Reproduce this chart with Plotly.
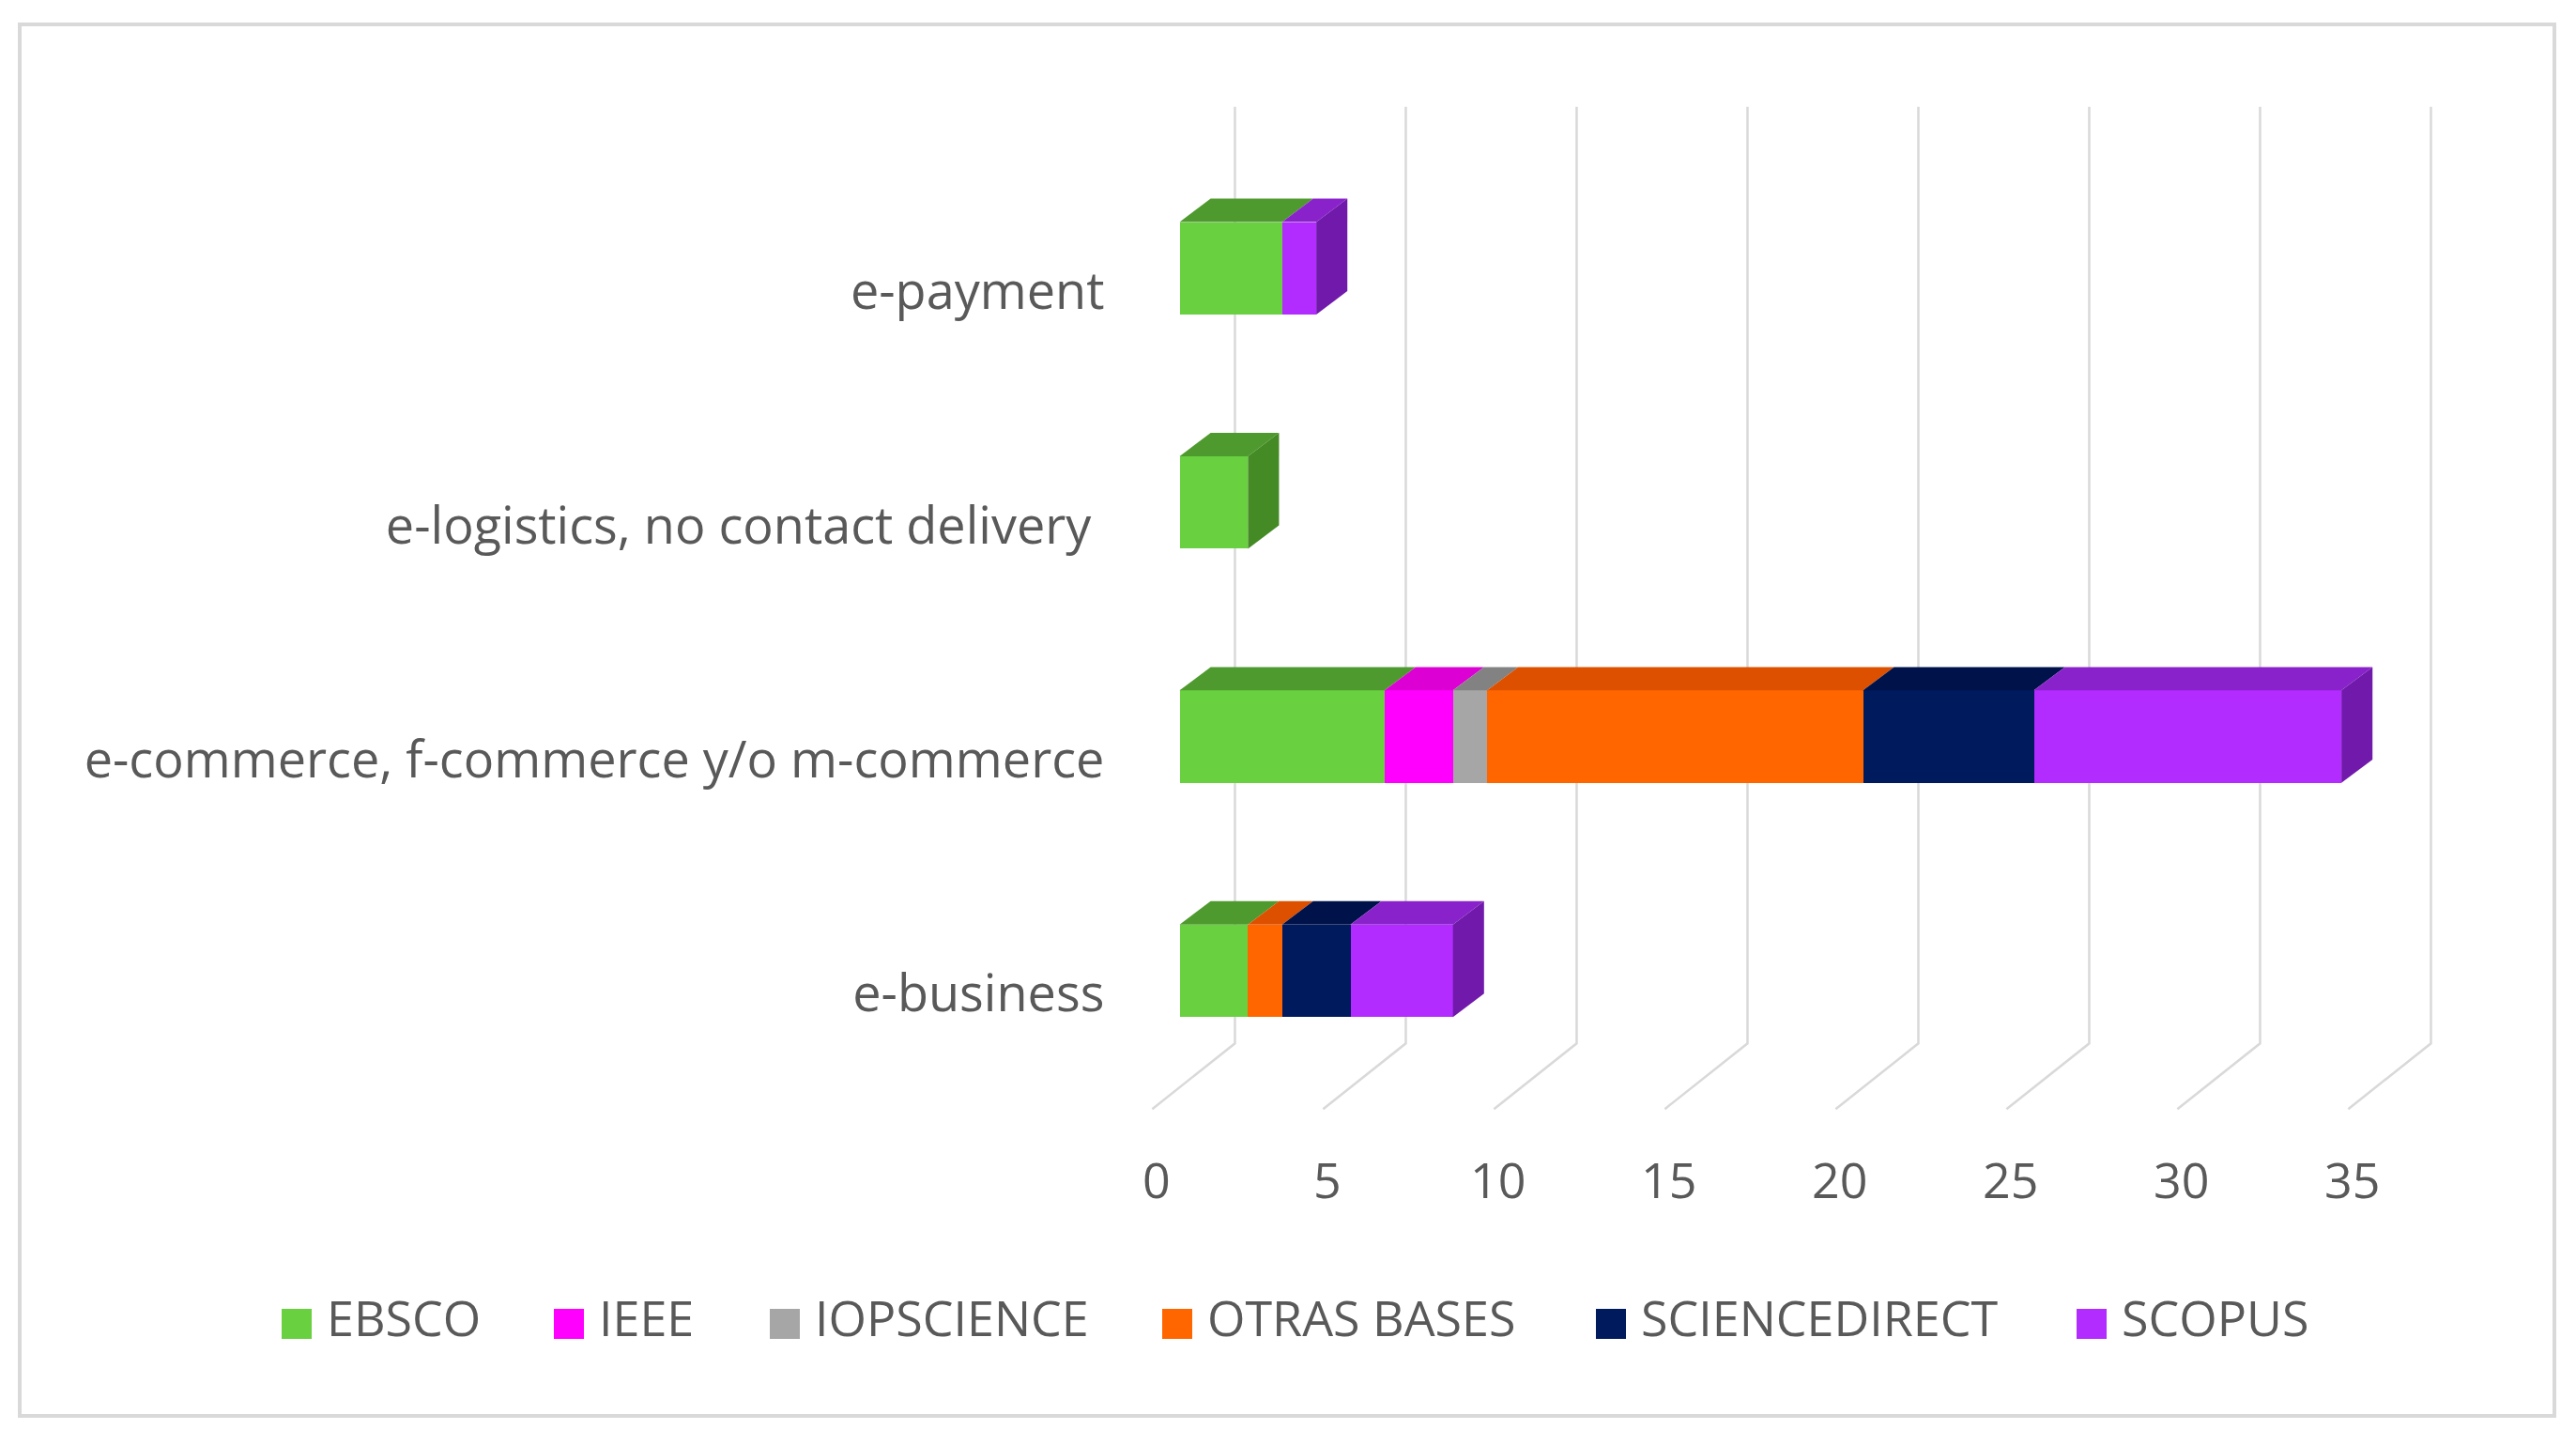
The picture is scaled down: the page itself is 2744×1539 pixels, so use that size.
import plotly.graph_objects as go

# data
categories = ["e-business", "e-commerce, f-commerce y/o m-commerce",
              "e-logistics, no contact delivery\u00a0", "e-payment"]
series = ["EBSCO", "IEEE", "IOPSCIENCE", "OTRAS BASES", "SCIENCEDIRECT", "SCOPUS"]
ebsco = [2, 6, 2, 3]
ieee = [0, 2, 0, 0]
iopscience = [0, 1, 0, 0]
otras = [1, 11, 0, 0]
sciencedirect = [2, 5, 0, 0]
scopus = [3, 9, 0, 1]
values = [ebsco, ieee, iopscience, otras, sciencedirect, scopus]
tick_vals = [0, 5, 10, 15, 20, 25, 30, 35]

front = ["#69D040", "#FF00FF", "#A6A6A6", "#FF6600", "#001A5E", "#B32CFF"]
top = ["#4F9A2E", "#DD00D5", "#828282", "#DD5000", "#00124A", "#8A22CC"]
side = ["#448A25", "#B000B0", "#707070", "#C04400", "#000E3A", "#7019AA"]

W, H = 2744, 1539
OFF = 8         # page body margin
PXU = 36.4      # px per value unit
X0 = 1256.5 - OFF   # px of value 0 at bar front
ROW = 249.4     # px per category
Y0 = 1034 - OFF     # px of first category centre

BH = 0.395      # bar height (category units)
DX = 0.91       # depth offset in value units
DY = 0.10       # depth offset in category units
TXT = "#595959"
FONT = "Open Sans"

fig = go.Figure()

# gridlines: back wall + floor, kept below the bars
shapes = []
for v in tick_vals:
    path = "M {:.3f},{:.3f} L {:.3f},{:.3f} L {:.3f},{:.3f}".format(
        v + 1.62, 3.69, v + 1.62, -0.31, v - 0.8, -0.59)
    shapes.append(dict(type="path", xref="x", yref="y", path=path,
                       line=dict(color="#D9D9D9", width=2.5), layer="below"))
shapes.append(dict(type="rect", xref="paper", yref="paper",
                   x0=(21 - OFF) / W, x1=(2721 - OFF) / W,
                   y0=1 - (1508 - OFF) / H, y1=1 - (26 - OFF) / H,
                   line=dict(color="#D9D9D9", width=4), fillcolor="rgba(0,0,0,0)", layer="below"))

# front faces
ypos = list(range(len(categories)))
for i, name in enumerate(series):
    fig.add_trace(go.Bar(y=ypos, x=values[i], orientation="h", name=name, width=BH,
                         marker=dict(color=front[i], line=dict(width=0)), showlegend=False))

# top and side faces
for j in ypos:
    base = 0
    last = None
    for i in range(len(series)):
        v = values[i][j]
        if v <= 0:
            continue
        yt = j + BH / 2
        fig.add_trace(go.Scatter(
            x=[base, base + v, base + v + DX, base + DX, base],
            y=[yt, yt, yt + DY, yt + DY, yt],
            mode="lines", fill="toself", fillcolor=top[i], line=dict(width=0, color=top[i]),
            hoverinfo="skip", showlegend=False))
        base += v
        last = i
    if last is not None:
        yb = j - BH / 2
        yt = j + BH / 2
        fig.add_trace(go.Scatter(
            x=[base, base + DX, base + DX, base, base],
            y=[yb, yb + DY, yt + DY, yt, yb],
            mode="lines", fill="toself", fillcolor=side[last], line=dict(width=0, color=side[last]),
            hoverinfo="skip", showlegend=False))

# category labels
fig.add_trace(go.Scatter(x=[-2.2] * len(categories), y=[j - 0.12 for j in ypos], mode="text",
                         text=categories, textposition="middle left",
                         textfont=dict(family=FONT, size=54, color=TXT),
                         hoverinfo="skip", showlegend=False))

# value tick labels on the floor
fig.add_trace(go.Scatter(x=[v - 0.68 for v in tick_vals], y=[-0.92] * len(tick_vals), mode="text",
                         text=[str(v) for v in tick_vals], textposition="middle center",
                         textfont=dict(family=FONT, size=52, color=TXT),
                         hoverinfo="skip", showlegend=False))

# legend row
legend_px = [316, 606, 836, 1254, 1716, 2228]
ly = (Y0 - (1410 - OFF)) / ROW
fig.add_trace(go.Scatter(x=[(p - OFF - X0) / PXU for p in legend_px], y=[ly] * len(series),
                         mode="markers", marker=dict(symbol="square", size=32, color=front, line=dict(width=0)),
                         hoverinfo="skip", showlegend=False))
fig.add_trace(go.Scatter(x=[(p - OFF + 32 - X0) / PXU for p in legend_px], y=[ly] * len(series),
                         mode="text", text=series, textposition="middle right",
                         textfont=dict(family=FONT, size=52, color=TXT),
                         hoverinfo="skip", showlegend=False))

fig.update_layout(
    width=W, height=H, barmode="stack",
    margin=dict(l=0, r=0, t=0, b=0),
    paper_bgcolor="white", plot_bgcolor="white",
    xaxis=dict(range=[-X0 / PXU, (W - X0) / PXU], visible=False, fixedrange=True),
    yaxis=dict(range=[-(H - Y0) / ROW, Y0 / ROW], visible=False, fixedrange=True),
    shapes=shapes,
)

fig.write_html("out.html")
